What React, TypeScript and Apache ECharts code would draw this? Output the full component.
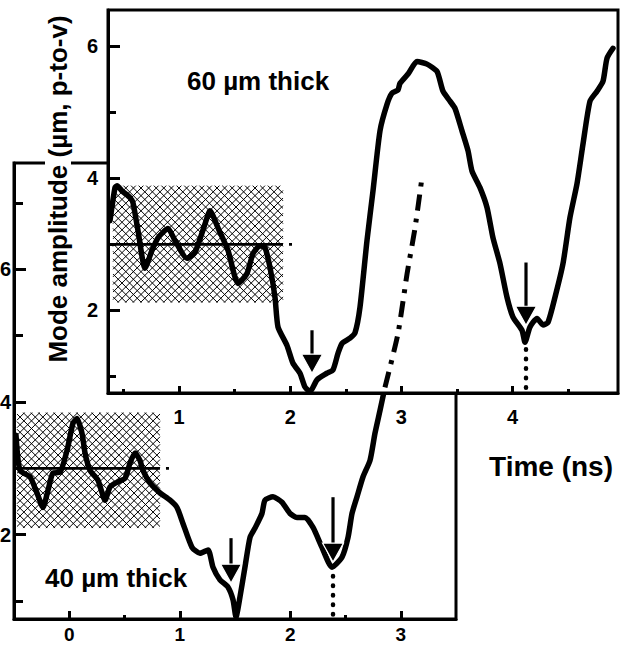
import React, { useEffect, useRef } from "react";
import * as echarts from "echarts";

const FONT = '"Liberation Sans", Arial, Helvetica, sans-serif';

// axis extents
const xRange60 = [0.36, 4.95];
const yRange60 = [0.75, 6.55];
const xRange40 = [-0.5, 3.5];
const yRange40 = [0.73, 7.6];

// tick values
const xMajor60 = [1, 2, 3, 4];
const xMinor60 = [0.5, 1.5, 2.5, 3.5, 4.5];
const yMajor60 = [2, 4, 6];
const yMinor60 = [1, 3, 5];
const xMajor40 = [0, 1, 2, 3];
const xMinor40 = [0.5, 1.5, 2.5];
const yMajor40 = [2, 4, 6];
const yMinor40 = [1, 3, 5, 7];

// 60 um thick trace [time ns, amplitude um]
const curve60 = [
  [0.378, 3.36], [0.423, 3.86], [0.441, 3.89], [0.486, 3.81], [0.558, 3.71],
  [0.585, 3.63], [0.63, 3.21], [0.693, 2.64], [0.756, 2.91], [0.81, 3.1],
  [0.9, 3.24], [0.963, 3.06], [1.071, 2.79], [1.143, 2.88], [1.233, 3.31],
  [1.278, 3.51], [1.35, 3.25], [1.44, 2.91], [1.53, 2.41], [1.611, 2.56],
  [1.665, 2.86], [1.728, 2.98], [1.773, 2.95], [1.818, 2.65], [1.863, 2.2],
  [1.89, 1.75], [1.971, 1.47], [2.025, 1.2], [2.088, 1.05], [2.133, 0.84],
  [2.178, 0.77], [2.241, 0.95], [2.331, 1.05], [2.385, 1.1], [2.43, 1.35],
  [2.466, 1.5], [2.538, 1.58], [2.583, 1.66], [2.628, 2.05], [2.691, 3.06],
  [2.745, 3.81], [2.808, 4.72], [2.871, 5.12], [2.916, 5.29], [2.97, 5.34],
  [2.988, 5.44], [3.06, 5.58], [3.141, 5.77], [3.231, 5.73], [3.321, 5.62],
  [3.375, 5.32], [3.438, 5.17], [3.483, 5.06], [3.546, 4.72], [3.6, 4.42],
  [3.636, 4.11], [3.708, 3.86], [3.771, 3.56], [3.825, 3.1], [3.888, 2.71],
  [3.951, 2.2], [4.005, 1.9], [4.086, 1.7], [4.113, 1.52], [4.158, 1.75],
  [4.221, 1.88], [4.275, 1.78], [4.32, 1.82], [4.383, 2.2], [4.455, 2.71],
  [4.518, 3.41], [4.581, 3.92], [4.635, 4.52], [4.698, 5.17], [4.761, 5.32],
  [4.815, 5.47], [4.851, 5.82], [4.905, 5.97],
];

// 40 um thick trace [time ns, amplitude um]
const curve40 = [
  [-0.482, 3.5], [-0.446, 2.97], [-0.355, 2.87], [-0.292, 2.63], [-0.238, 2.41],
  [-0.192, 2.67], [-0.147, 2.93], [-0.084, 2.94], [-0.02, 3.27], [0.034, 3.68],
  [0.07, 3.75], [0.115, 3.53], [0.143, 3.23], [0.188, 2.97], [0.26, 2.82],
  [0.324, 2.52], [0.369, 2.72], [0.432, 2.79], [0.505, 2.85], [0.55, 3.08],
  [0.595, 3.23], [0.64, 3.12], [0.667, 2.97], [0.731, 2.78], [0.821, 2.63],
  [0.912, 2.52], [0.975, 2.41], [1.029, 2.17], [1.111, 1.81], [1.183, 1.72],
  [1.256, 1.77], [1.301, 1.51], [1.364, 1.32], [1.437, 1.21], [1.482, 1.02],
  [1.509, 0.76], [1.545, 1.06], [1.59, 1.51], [1.636, 1.96], [1.681, 2.1],
  [1.744, 2.32], [1.771, 2.52], [1.844, 2.57], [1.925, 2.49], [1.998, 2.32],
  [2.061, 2.26], [2.133, 2.26], [2.206, 2.11], [2.287, 1.81], [2.378, 1.51],
  [2.468, 1.66], [2.523, 1.96], [2.559, 2.32], [2.604, 2.57], [2.658, 2.87],
  [2.722, 3.12], [2.767, 3.53], [2.812, 3.87], [2.857, 4.22],
];

// extrapolation of the 40 um trace (dash-dot)
const extrap40 = [
  [2.857, 4.22], [2.975, 5.03], [3.057, 5.93], [3.129, 6.62], [3.192, 7.38],
];

// hatched bands: [xStart, xEnd, yLow, yHigh, yMean]
const band60 = [0.405, 1.935, 2.12, 3.89, 3.0];
const band40 = [-0.473, 0.821, 2.1, 3.84, 3.0];

// arrows: [x, yTail, yTip]
const arrows60 = [
  [2.196, 1.7, 1.05],
  [4.122, 2.726, 1.776],
];
const arrows40 = [
  [1.464, 1.948, 1.27],
  [2.387, 2.565, 1.587],
];

// dotted drop lines: [x, yTop]
const drops60 = [[4.122, 1.474]];
const drops40 = [[2.387, 1.437]];

const yTitle = "Mode amplitude (µm, p-to-v)";
const xTitle = "Time (ns)";
const label60 = "60 µm thick";
const label40 = "40 µm thick";

const hatchItem = (params: any, api: any) => {
  const tl = api.coord([api.value(0), api.value(3)]);
  const br = api.coord([api.value(1), api.value(2)]);
  const x0 = tl[0], y0 = tl[1], x1 = br[0], y1 = br[1];
  const step = 7.6;
  const st = { stroke: "#000", lineWidth: 1.0 };
  const children: any[] = [];
  for (let c = y0 - x1; c <= y1 - x0; c += step) {
    const sx = Math.max(x0, y0 - c);
    const ex = Math.min(x1, y1 - c);
    if (ex > sx) children.push({ type: "line", shape: { x1: sx, y1: sx + c, x2: ex, y2: ex + c }, style: st });
  }
  for (let c = x0 + y0; c <= x1 + y1; c += step) {
    const sx = Math.max(x0, c - y1);
    const ex = Math.min(x1, c - y0);
    if (ex > sx) children.push({ type: "line", shape: { x1: sx, y1: c - sx, x2: ex, y2: c - ex }, style: st });
  }
  const m0 = api.coord([api.value(0), api.value(4)]);
  const m1 = api.coord([api.value(1), api.value(4)]);
  const w = m1[0] - m0[0];
  children.push({
    type: "line",
    shape: { x1: m0[0], y1: m0[1], x2: m1[0] + 10, y2: m1[1] },
    style: { stroke: "#000", lineWidth: 2.8, lineDash: [w, 6, 3, 60] },
  });
  return { type: "group", children, silent: true };
};

const arrowItem = (params: any, api: any) => {
  const tail = api.coord([api.value(0), api.value(1)]);
  const tip = api.coord([api.value(0), api.value(2)]);
  const hl = 19, hw = 10.5;
  return {
    type: "group",
    silent: true,
    children: [
      { type: "line", shape: { x1: tail[0], y1: tail[1], x2: tip[0], y2: tip[1] - hl + 1 }, style: { stroke: "#000", lineWidth: 3.2 } },
      {
        type: "polygon",
        shape: { points: [[tip[0] - hw, tip[1] - hl], [tip[0] + hw, tip[1] - hl], [tip[0], tip[1]]] },
        style: { fill: "#000", stroke: "#fff", lineWidth: 1.2 },
      },
    ],
  };
};

const dropItem = (params: any, api: any) => {
  const top = api.coord([api.value(0), api.value(1)]);
  const bottom = params.coordSys.y + params.coordSys.height;
  return {
    type: "line",
    silent: true,
    shape: { x1: top[0], y1: top[1] + 4, x2: top[0], y2: bottom },
    style: { stroke: "#000", lineWidth: 4.5, lineDash: [0.5, 9], lineCap: "round" },
  };
};

const labelFont = { color: "#000", fontFamily: FONT, fontWeight: "bold" as const, fontSize: 20 };

function axisPair(
  gridIndex: number,
  position: string,
  range: number[],
  major: number[],
  minor: number[],
  majLen: number,
  minLen: number,
  margin: number,
  z: number,
  fontSize: number
) {
  const base = { type: "value", gridIndex, position, min: range[0], max: range[1], z, splitLine: { show: false } };
  return [
    {
      ...base,
      axisLine: { show: true, onZero: false, lineStyle: { color: "#000", width: 3 } },
      axisTick: { show: true, inside: true, length: majLen, customValues: major, lineStyle: { color: "#000", width: 3 } },
      axisLabel: { show: true, customValues: major, margin, ...labelFont, fontSize, formatter: (v: number) => String(v) },
    },
    {
      ...base,
      axisLine: { show: false, onZero: false },
      axisTick: { show: true, inside: true, length: minLen, customValues: minor, lineStyle: { color: "#000", width: 3 } },
      axisLabel: { show: false },
    },
  ];
}

export default function App() {
  const ref = useRef<HTMLDivElement>(null);
  useEffect(() => {
    const chart = echarts.init(ref.current!, undefined, { renderer: "svg" });
    const option: any = {
      animation: false,
      backgroundColor: "#fff",
      grid: [
        { left: 108, top: 10, width: 510, height: 383, show: true, backgroundColor: "#fff", borderColor: "#000", borderWidth: 3, z: 10, containLabel: false, outerBoundsMode: "none" },
        { left: 14, top: 163, width: 442, height: 456, show: true, backgroundColor: "rgba(0,0,0,0)", borderColor: "#000", borderWidth: 3, z: 0, containLabel: false, outerBoundsMode: "none" },
      ],
      xAxis: [
        ...axisPair(0, "bottom", xRange60, xMajor60, xMinor60, 7, 4, 14, 11, 20),
        ...axisPair(1, "bottom", xRange40, xMajor40, xMinor40, 8, 4, 6, 1, 19),
      ],
      yAxis: [
        ...axisPair(0, "left", yRange60, yMajor60, yMinor60, 12, 8, 10, 11, 20),
        ...axisPair(1, "left", yRange40, yMajor40, yMinor40, 12, 9, 3, 1, 20),
      ],
      series: [
        { type: "custom", xAxisIndex: 2, yAxisIndex: 2, renderItem: hatchItem, data: [band40], z: 1, silent: true },
        {
          type: "line", xAxisIndex: 2, yAxisIndex: 2, data: curve40, symbol: "none", showSymbol: false, smooth: 0.2, silent: true,
          lineStyle: { color: "#000", width: 5.5, cap: "round", join: "round" }, z: 3,
        },
        { type: "custom", xAxisIndex: 2, yAxisIndex: 2, renderItem: arrowItem, data: arrows40, z: 4, silent: true },
        { type: "custom", xAxisIndex: 2, yAxisIndex: 2, renderItem: dropItem, data: drops40, z: 4, silent: true },
        { type: "custom", xAxisIndex: 0, yAxisIndex: 0, renderItem: hatchItem, data: [band60], z: 12, silent: true },
        {
          type: "line", xAxisIndex: 0, yAxisIndex: 0, data: curve60, symbol: "none", showSymbol: false, smooth: 0.2, silent: true,
          lineStyle: { color: "#000", width: 5.5, cap: "round", join: "round" }, z: 13,
        },
        { type: "custom", xAxisIndex: 0, yAxisIndex: 0, renderItem: arrowItem, data: arrows60, z: 14, silent: true },
        { type: "custom", xAxisIndex: 0, yAxisIndex: 0, renderItem: dropItem, data: drops60, z: 14, silent: true },
        {
          type: "line", xAxisIndex: 2, yAxisIndex: 2, data: extrap40, symbol: "none", showSymbol: false, smooth: 0.2, silent: true,
          lineStyle: { color: "#000", width: 5, type: [16, 8, 4, 8], cap: "butt" }, z: 15,
        },
      ],
      graphic: [
        {
          type: "text", x: 58, y: 189, rotation: Math.PI / 2, z: 50, silent: true,
          style: {
            text: yTitle, font: `bold 26px ${FONT}`, fill: "#000",
            align: "center", verticalAlign: "middle", textAlign: "center", textVerticalAlign: "middle",
            backgroundColor: "#fff", padding: [0, 2],
          },
        },
        {
          type: "text", x: 551, y: 466, z: 50, silent: true,
          style: { text: xTitle, font: `bold 28px ${FONT}`, fill: "#000", align: "center", verticalAlign: "middle", textAlign: "center", textVerticalAlign: "middle" },
        },
        {
          type: "text", x: 187, y: 81, z: 50, silent: true,
          style: { text: label60, font: `bold 26px ${FONT}`, fill: "#000", align: "left", verticalAlign: "middle", textAlign: "left", textVerticalAlign: "middle" },
        },
        {
          type: "text", x: 45, y: 578, z: 50, silent: true,
          style: { text: label40, font: `bold 26px ${FONT}`, fill: "#000", align: "left", verticalAlign: "middle", textAlign: "left", textVerticalAlign: "middle" },
        },
      ],
    };
    chart.setOption(option);
    return () => chart.dispose();
  }, []);
  return (
    <div
      ref={ref}
      style={{ position: "absolute", left: 0, top: 0, width: 620, height: 647, background: "#fff" }}
    />
  );
}
